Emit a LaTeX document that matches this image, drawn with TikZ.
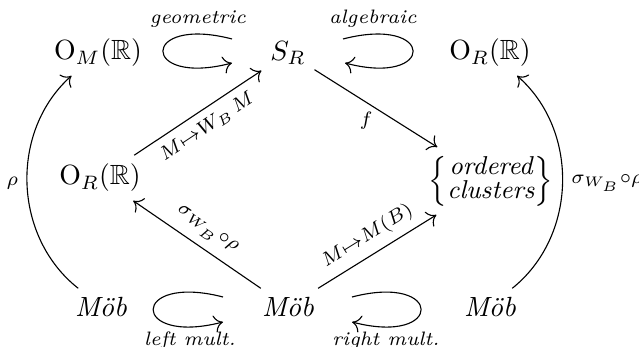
\documentclass[tikz,border=0pt]{standalone}
\usepackage{amsmath,amssymb}
\usetikzlibrary{arrows.meta}
\tikzset{
  mp/.style={-{To[length=1.1mm,width=2.2mm]}},
  lp/.style={-{To[length=1.1mm,width=2.2mm]}},
  tg/.style={inner sep=3pt},
  lt/.style={font=\scriptsize\itshape,inner sep=0pt},
  ob/.style={inner sep=3pt}
}
\newcommand{\mob}{\textit{M\"ob}}

\begin{document}
\begin{tikzpicture}[x=0.36pt,y=0.36pt]
\useasboundingbox (0,0) rectangle (639,347);
% objects
\node[ob] (om) at (98,294) {$\mathrm{O}_M(\mathbb{R})$};
\node[ob] (sr) at (288,294) {$S_R$};
\node[ob] (ort) at (490,294) {$\mathrm{O}_R(\mathbb{R})$};
\node[ob] (orm) at (100,169) {$\mathrm{O}_R(\mathbb{R})$};
\node[ob] (cl) at (491,166) {$\left\{\vcenter{\hbox{\fontsize{9.3}{8.2}\selectfont\itshape
  \begin{tabular}{@{}c@{}}ordered\\clusters\end{tabular}}}\right\}$};
\node[ob] (ml) at (101,40) {\mob};
\node[ob] (mm) at (288,40) {\mob};
\node[ob] (mr) at (490,40) {\mob};
% maps
\draw[mp] (ml) to[bend left=50] node[tg,left] {$\scriptstyle\rho$} (om);
\draw[mp] (mr) to[bend right=50] node[tg,right] {$\scriptstyle\sigma_{W_B}\circ\rho$} (ort);
\draw[mp] (orm) -- node[tg,below,sloped] {$\scriptstyle M\mapsto W_B\,M$} (sr);
\draw[mp] (sr) -- node[tg,below left,inner sep=1pt] {$\scriptstyle f$} (cl);
\draw[mp] (mm) -- node[tg,above,sloped] {$\scriptstyle\sigma_{W_B}\circ\rho$} (orm);
\draw[mp] (mm) -- node[tg,above,sloped] {$\scriptstyle M\mapsto M(B)$} (cl);
% loops
\coordinate (g1) at (232,308); \coordinate (g2) at (232,284);
\coordinate (a1) at (343,308); \coordinate (a2) at (345,284);
\coordinate (l1) at (223,50); \coordinate (l2) at (223,25);
\coordinate (r1) at (352,50); \coordinate (r2) at (352,25);
\draw[lp] (g1) .. controls (140,332) and (140,260) .. (g2);
\draw[lp] (a1) .. controls (436,332) and (436,260) .. (a2);
\draw[lp] (l1) .. controls (130,74) and (130,1) .. (l2);
\draw[lp] (r1) .. controls (444,74) and (444,1) .. (r2);
\node[lt] (geo) at (198,328) {geometric};
\node[lt] (alg) at (373,328) {algebraic};
\node[lt] (lm) at (190,6) {left mult.};
\node[lt] (rm) at (386,6) {right mult.};
\end{tikzpicture}
\end{document}
